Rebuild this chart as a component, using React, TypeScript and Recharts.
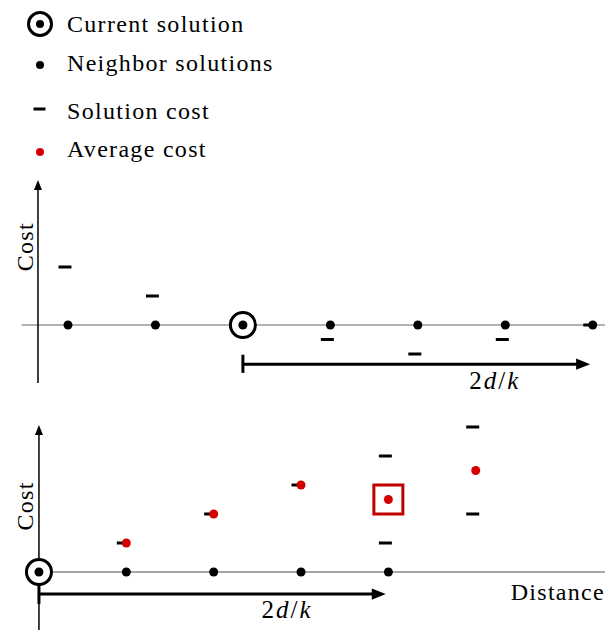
import React from 'react';
import { ScatterChart, Scatter, XAxis, YAxis, ReferenceLine, ReferenceDot } from 'recharts';

// top panel: positions are steps away from the current solution
const TOP_CURRENT_POS = [0];
const TOP_NEIGHBOR_POS = [-2, -1, 1, 2, 3, 4];
const TOP_NEIGHBOR_COST = [4, 2, -1, -2, -1, 0];

// bottom panel
const BOTTOM_CURRENT_POS = [0];
const BOTTOM_NEIGHBOR_POS = [1, 2, 3, 4];
const BOTTOM_COST_POS = [1, 2, 3, 4, 4, 5, 5];
const BOTTOM_COST = [1, 2, 3, 4, 1, 5, 2];
const BOTTOM_AVG_POS = [1, 2, 3, 4, 5];
const BOTTOM_AVG = [1, 2, 3, 2.5, 3.5];
const SELECTED_POS = 4;

const LEGEND_ITEMS = ['Current solution', 'Neighbor solutions', 'Solution cost', 'Average cost'];
const RED = '#d40000';
const SERIF = { fontFamily: 'Liberation Serif' };

const topCurrent = TOP_CURRENT_POS.map((x) => ({ x, y: 0 }));
const topNeighbors = TOP_NEIGHBOR_POS.map((x) => ({ x, y: 0 }));
const topCosts = TOP_NEIGHBOR_POS.map((x, i) => ({ x, y: TOP_NEIGHBOR_COST[i] }));

const bottomCurrent = BOTTOM_CURRENT_POS.map((x) => ({ x, y: 0 }));
const bottomNeighbors = BOTTOM_NEIGHBOR_POS.map((x) => ({ x, y: 0 }));
const bottomCosts = BOTTOM_COST_POS.map((x, i) => ({ x, y: BOTTOM_COST[i] }));
const bottomAvg = BOTTOM_AVG_POS.map((x, i) => ({ x, y: BOTTOM_AVG[i] }));
const selected = bottomAvg.filter((d) => d.x === SELECTED_POS);

const NeighborDot = (p: any) => <circle cx={p.cx} cy={p.cy} r={4.5} fill="#000" />;
const AvgDot = (p: any) => <circle cx={p.cx} cy={p.cy} r={4.5} fill={RED} />;
const CostDash = (p: any) => <rect x={p.cx - 9.5} y={p.cy - 1.5} width={13} height={3} fill="#000" />;
const CurrentMark = (p: any) => (
  <g>
    <circle cx={p.cx} cy={p.cy} r={12.5} fill="#fff" stroke="#000" strokeWidth={3} />
    <circle cx={p.cx} cy={p.cy} r={4.5} fill="#000" />
  </g>
);
const SelectBox = (p: any) => (
  <rect x={p.cx - 14.5} y={p.cy - 14.5} width={29} height={29} fill="none" stroke="#c00000" strokeWidth={3} />
);

const arrowLine = (width: number, head: number) => (p: any) => {
  const { x1, y1, x2, y2 } = p;
  const a = Math.atan2(y2 - y1, x2 - x1);
  const bx = x2 - head * Math.cos(a);
  const by = y2 - head * Math.sin(a);
  const w = head * 0.4;
  const pts = [
    [x2, y2],
    [bx - w * Math.sin(a), by + w * Math.cos(a)],
    [bx + w * Math.sin(a), by - w * Math.cos(a)],
  ];
  return (
    <g>
      <line x1={x1} y1={y1} x2={bx + 2 * Math.cos(a)} y2={by + 2 * Math.sin(a)} stroke="#000" strokeWidth={width} />
      <polygon points={pts.map((q) => q.join(',')).join(' ')} fill="#000" />
    </g>
  );
};

const mathLabel = (p: any) => (
  <text x={p.cx} y={p.cy} textAnchor="middle" style={SERIF} letterSpacing={2} fontSize={25} fill="#000">
    2<tspan fontStyle="italic">d</tspan>/<tspan fontStyle="italic">k</tspan>
  </text>
);
const costLabel = (p: any) => (
  <text x={p.cx} y={p.cy} textAnchor="middle" style={SERIF} letterSpacing={1.3} fontSize={24} fill="#000" transform={`rotate(-90 ${p.cx} ${p.cy})`}>
    Cost
  </text>
);
const distanceLabel = (p: any) => (
  <text x={p.cx} y={p.cy} textAnchor="start" style={SERIF} letterSpacing={1.3} fontSize={24} fill="#000">
    Distance
  </text>
);

function LegendBox() {
  const rows = [24, 65, 109, 152];
  const base = [32, 71, 119, 157];
  return (
    <svg width={300} height={170} style={{ position: 'absolute', left: 0, top: 0 }}>
      <circle cx={40} cy={rows[0]} r={11.5} fill="#fff" stroke="#000" strokeWidth={3} />
      <circle cx={40} cy={rows[0]} r={4} fill="#000" />
      <circle cx={40} cy={rows[1]} r={4} fill="#000" />
      <rect x={33.5} y={rows[2] - 1.5} width={12} height={3} fill="#000" />
      <circle cx={40} cy={rows[3]} r={4} fill={RED} />
      {LEGEND_ITEMS.map((t, i) => (
        <text key={t} x={67} y={base[i]} style={SERIF} letterSpacing={1.3} fontSize={24} fill="#000">
          {t}
        </text>
      ))}
    </svg>
  );
}

export default function App() {
  return (
    <div style={{ position: 'absolute', left: 0, top: 0, width: 605, height: 630, background: '#fff' }}>
      <LegendBox />
      <div style={{ position: 'absolute', left: 0, top: 0 }}>
        <ScatterChart width={605} height={400} margin={{ top: 180, right: 0, bottom: 17, left: 15.5 }}>
          <XAxis type="number" dataKey="x" domain={[-2.6, 4.14]} hide allowDataOverflow />
          <YAxis type="number" dataKey="y" domain={[-4, 10]} hide allowDataOverflow />
          <ReferenceLine segment={[{ x: -2.53, y: 0 }, { x: 4.14, y: 0 }]} stroke="#999" strokeWidth={1.5} ifOverflow="visible" />
          <ReferenceLine segment={[{ x: -2.343, y: -4 }, { x: -2.343, y: 10 }]} ifOverflow="visible" shape={arrowLine(1.5, 10)} />
          <ReferenceLine segment={[{ x: 0, y: -2.7 }, { x: 3.97, y: -2.7 }]} ifOverflow="visible" shape={arrowLine(3, 14)} />
          <ReferenceLine segment={[{ x: 0, y: -2.05 }, { x: 0, y: -3.3 }]} stroke="#000" strokeWidth={3} ifOverflow="visible" />
          <ReferenceDot x={2.88} y={-4.4} ifOverflow="visible" shape={mathLabel} />
          <ReferenceDot x={-2.4} y={5.4} ifOverflow="visible" shape={costLabel} />
          <Scatter data={topCosts} shape={CostDash} isAnimationActive={false} />
          <Scatter data={topNeighbors} shape={NeighborDot} isAnimationActive={false} />
          <Scatter data={topCurrent} shape={CurrentMark} isAnimationActive={false} />
        </ScatterChart>
      </div>
      <div style={{ position: 'absolute', left: 0, top: 400 }}>
        <ScatterChart width={605} height={230} margin={{ top: 25, right: 0, bottom: 0, left: 12.75 }}>
          <XAxis type="number" dataKey="x" domain={[-0.3, 6.48]} hide allowDataOverflow />
          <YAxis type="number" dataKey="y" domain={[-2, 5.069]} hide allowDataOverflow />
          <ReferenceLine segment={[{ x: 0, y: 0 }, { x: 6.48, y: 0 }]} stroke="#888" strokeWidth={1.5} ifOverflow="visible" />
          <ReferenceLine segment={[{ x: 0, y: -2 }, { x: 0, y: 5.069 }]} ifOverflow="visible" shape={arrowLine(1.5, 10)} />
          <ReferenceLine segment={[{ x: 0, y: -0.76 }, { x: 3.97, y: -0.76 }]} ifOverflow="visible" shape={arrowLine(3, 14)} />
          <ReferenceLine segment={[{ x: 0, y: -0.45 }, { x: 0, y: -1.1 }]} stroke="#000" strokeWidth={3} ifOverflow="visible" />
          <ReferenceDot x={2.84} y={-1.6} ifOverflow="visible" shape={mathLabel} />
          <ReferenceDot x={5.4} y={-0.98} ifOverflow="visible" shape={distanceLabel} />
          <ReferenceDot x={-0.07} y={2.28} ifOverflow="visible" shape={costLabel} />
          <Scatter data={bottomCosts} shape={CostDash} isAnimationActive={false} />
          <Scatter data={bottomNeighbors} shape={NeighborDot} isAnimationActive={false} />
          <Scatter data={bottomAvg} shape={AvgDot} isAnimationActive={false} />
          <Scatter data={selected} shape={SelectBox} isAnimationActive={false} />
          <Scatter data={bottomCurrent} shape={CurrentMark} isAnimationActive={false} />
        </ScatterChart>
      </div>
    </div>
  );
}
